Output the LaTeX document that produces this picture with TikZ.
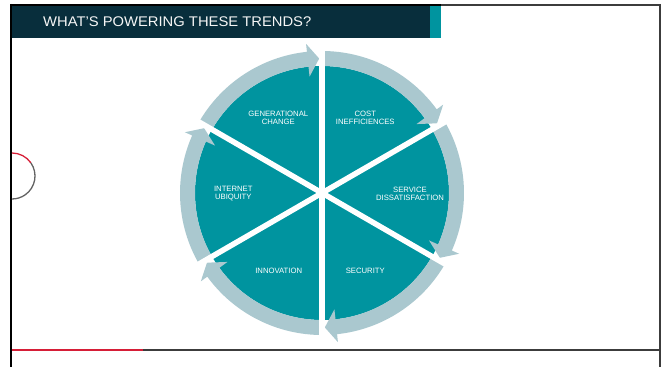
\documentclass[tikz,border=0pt]{standalone}
\usepackage{fontspec}
\usetikzlibrary{calc}
\setmainfont{Liberation Sans}
\definecolor{hdr}{RGB}{8,46,60}
\definecolor{tealc}{RGB}{0,148,159}
\definecolor{ringc}{RGB}{170,200,207}
\definecolor{redc}{RGB}{214,30,55}
\definecolor{grayc}{RGB}{60,60,60}
\tikzset{
  seglabel/.style={text=white, font=\fontsize{7.7}{8.3}\selectfont, align=center, inner sep=0pt},
  ringseg/.style={fill=ringc, draw=none},
  spoke/.style={draw=white, line width=5.5pt}
}
\begin{document}
\begin{tikzpicture}[x=1pt,y=1pt]
\useasboundingbox (0,0) rectangle (665,367);
% header
\fill[hdr] (11,329) rectangle (430,361.5);
\fill[tealc] (430,329) rectangle (441,361.5);
\node[anchor=base west, inner sep=0pt, text=white!93!gray, font=\fontsize{14}{16}\selectfont, xscale=1.055, transform shape] (title) at (43,340) {WHAT’S POWERING THESE TRENDS?};
% frame
\draw[black, line width=2pt] (10,362) -- (441,362);
\draw[grayc, line width=2pt] (441,362) -- (661,362);
\draw[black, line width=2.5pt] (11,363) -- (11,-1);
\draw[grayc, line width=2pt] (660,363) -- (660,-1);
\draw[redc, line width=1.2pt] (12,17) -- (143,17);
\draw[grayc, line width=1.1pt] (143,17) -- (659,17);
% left half circle
\coordinate (LC) at (12,191);
\draw[redc, line width=1.3pt] (12,214) arc[start angle=90, end angle=35, radius=23pt];
\draw[grayc!80, line width=1.3pt] ($(LC)+(35:23pt)$) arc[start angle=35, end angle=-90, radius=23pt];
% wheel
\coordinate (C) at (322,174);
\begin{scope}[shift={(C)}]
  \fill[tealc] (0,0) circle[radius=127pt];
  \foreach \s in {90,30,-30,-90,-150,-210}{
    \pgfmathsetmacro{\hb}{\s-60+6.1}
    \pgfmathsetmacro{\tp}{\s-60+1.2}
    \fill[ringseg] (\s:142pt) arc[start angle=\s, end angle=\hb, radius=142pt]
      -- (\hb:150pt) -- (\tp:134.5pt) -- (\hb:117pt) -- (\hb:127pt)
      arc[start angle=\hb, end angle=\s, radius=127pt] -- cycle;
  }
  \foreach \a in {90,30,-30,-90,-150,150}{
    \draw[spoke] (0,0) -- (\a:146pt);
  }
\end{scope}
% labels
\node[seglabel] (gen) at (278.3,249) {GENERATIONAL\\CHANGE};
\node[seglabel] (cost) at (365.3,249) {COST\\INEFFICIENCES};
\node[seglabel] (inet) at (233.3,173.3) {INTERNET\\UBIQUITY};
\node[seglabel] (serv) at (410,173.3) {SERVICE\\DISSATISFACTION};
\node[seglabel] (innov) at (278.7,96) {INNOVATION};
\node[seglabel] (sec) at (365.3,96) {SECURITY};
\end{tikzpicture}
\end{document}
